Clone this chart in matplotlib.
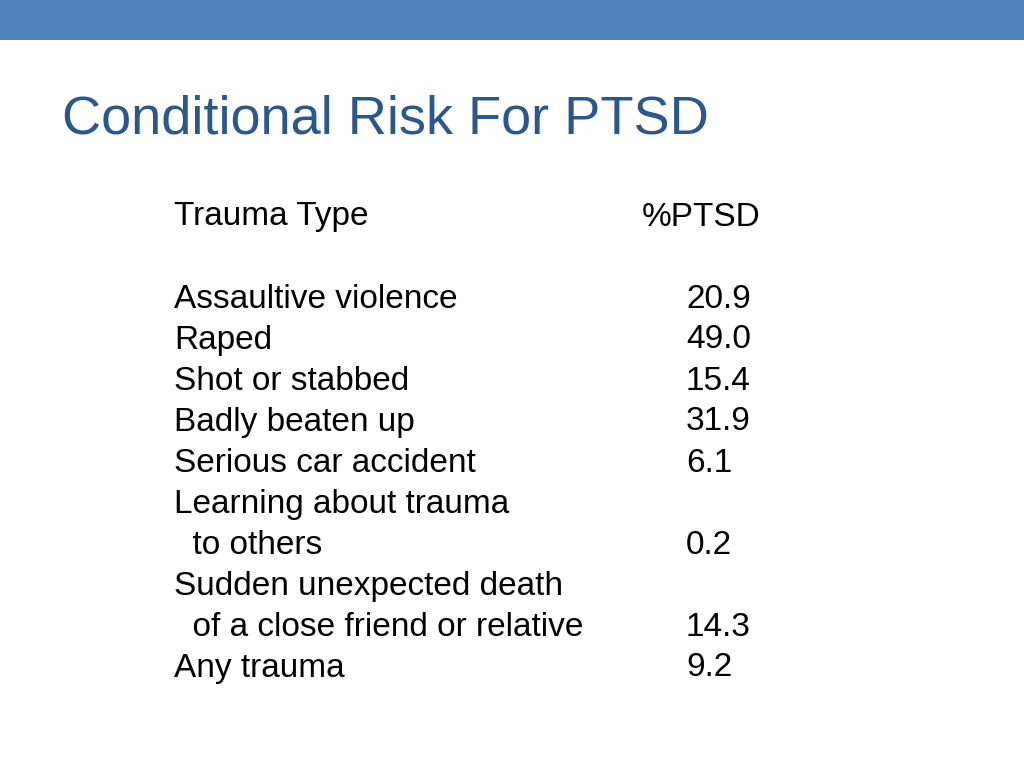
import matplotlib.pyplot as plt
from matplotlib.patches import Rectangle

# Table data
trauma_types = ["Assaultive violence", "Raped", "Shot or stabbed", "Badly beaten up",
                "Serious car accident", "Learning about trauma\n  to others",
                "Sudden unexpected death\n  of a close friend or relative", "Any trauma"]
pct_ptsd = ["20.9", "49.0", "15.4", "31.9", "6.1", "0.2", "14.3", "9.2"]

plt.rcParams["font.family"] = "Liberation Sans"

fig = plt.figure(figsize=(10.24, 7.68), dpi=100)
ax = fig.add_axes([0, 0, 1, 1])
ax.set_xlim(0, 1024)
ax.set_ylim(768, 0)
ax.axis("off")

# Header band
ax.add_patch(Rectangle((0, 0), 1024, 40, color="#4F81BD", lw=0))

ax.text(62, 119, "Conditional Risk For PTSD", fontsize=39, color="#2A5790",
        va="center", ha="left")

fs = 24
ax.text(174, 217, "Trauma Type", fontsize=fs, va="center")
ax.text(642, 217, "%PTSD", fontsize=fs, va="center")

y = 299
step = 41
for label, val in zip(trauma_types, pct_ptsd):
    lines = label.split("\n")
    for i, line in enumerate(lines):
        ax.text(174, y + i * step, line, fontsize=fs, va="center")
    ax.text(686, y + (len(lines) - 1) * step, val, fontsize=fs, va="center")
    y += len(lines) * step

fig.savefig("out.png", dpi=100)
